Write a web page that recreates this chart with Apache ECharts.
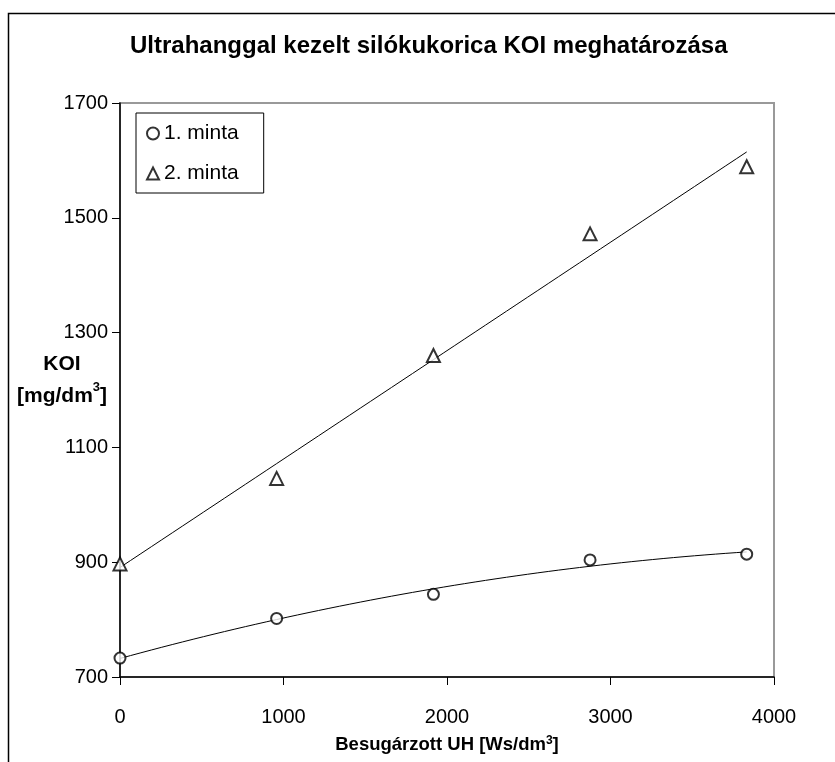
<!DOCTYPE html>
<html>
<head>
<meta charset="utf-8">
<script src="https://cdn.jsdelivr.net/npm/echarts@6/dist/echarts.min.js"></script>
<style>
html,body{margin:0;padding:0;background:#fff;}
#chart{width:835px;height:762px;}
</style>
</head>
<body>
<div id="chart"></div>
<script>
// ---- data ----
const xValues = [0, 958, 1917, 2875, 3833];
const minta1 = [733, 802, 844, 904, 914];
const minta2 = [897, 1046, 1260, 1472, 1589];
const xTicks = [0, 1000, 2000, 3000, 4000];
const yTicks = [700, 900, 1100, 1300, 1500, 1700];
const seriesNames = ['1. minta', '2. minta'];

// least-squares polynomial fit (trendlines as in the original spreadsheet chart)
function polyfit(xs, ys, order) {
  const n = order + 1;
  const A = [], b = [];
  for (let i = 0; i < n; i++) {
    A.push([]);
    for (let j = 0; j < n; j++) {
      let s = 0; for (let k = 0; k < xs.length; k++) s += Math.pow(xs[k], i + j);
      A[i].push(s);
    }
    let s = 0; for (let k = 0; k < xs.length; k++) s += ys[k] * Math.pow(xs[k], i);
    b.push(s);
  }
  for (let i = 0; i < n; i++) {
    let p = i;
    for (let r = i + 1; r < n; r++) if (Math.abs(A[r][i]) > Math.abs(A[p][i])) p = r;
    [A[i], A[p]] = [A[p], A[i]]; [b[i], b[p]] = [b[p], b[i]];
    for (let r = i + 1; r < n; r++) {
      const f = A[r][i] / A[i][i];
      for (let c = i; c < n; c++) A[r][c] -= f * A[i][c];
      b[r] -= f * b[i];
    }
  }
  const coef = new Array(n).fill(0);
  for (let i = n - 1; i >= 0; i--) {
    let s = b[i];
    for (let c = i + 1; c < n; c++) s -= A[i][c] * coef[c];
    coef[i] = s / A[i][i];
  }
  return coef;
}
function trend(xs, ys, order) {
  const c = polyfit(xs, ys, order);
  const x0 = xs[0], x1 = xs[xs.length - 1], steps = 60;
  const out = [];
  for (let i = 0; i <= steps; i++) {
    const x = x0 + (x1 - x0) * i / steps;
    let y = 0; for (let k = 0; k < c.length; k++) y += c[k] * Math.pow(x, k);
    out.push([x, y]);
  }
  return out;
}

const pts1 = xValues.map((x, i) => [x, minta1[i]]);
const pts2 = xValues.map((x, i) => [x, minta2[i]]);
const FONT = 'Arial, "Liberation Sans", sans-serif';

const chart = echarts.init(document.getElementById('chart'), null, {renderer: 'canvas'});
chart.setOption({
  animation: false,
  backgroundColor: '#fff',
  title: {
    text: 'Ultrahanggal kezelt silókukorica KOI meghatározása',
    left: 130,
    top: 34,
    padding: 0,
    textStyle: {fontFamily: FONT, fontSize: 24, fontWeight: 'bold', color: '#000'}
  },
  graphic: [{
    type: 'rect',
    shape: {x: 8.5, y: 13.5, width: 840, height: 760},
    style: {fill: 'none', stroke: '#000', lineWidth: 1.5},
    silent: true, z: -1
  }, {
    type: 'text',
    left: 17, top: 354,
    style: {
      text: '{b|KOI}\n{b|[mg/dm}{s|3}{b|]}',
      align: 'center',
      rich: {
        b: {fontFamily: FONT, fontSize: 21, fontWeight: 'bold', fill: '#000', lineHeight: 32, align: 'center'},
        s: {fontFamily: FONT, fontSize: 13, fontWeight: 'bold', fill: '#000', lineHeight: 32, verticalAlign: 'top', padding: [0, 0, 9, 0]}
      }
    },
    silent: true
  }],
  legend: {
    orient: 'vertical',
    left: 136, top: 113,
    padding: [10, 25, 9, 10],
    itemGap: 19,
    itemWidth: 12, itemHeight: 12,
    borderColor: '#000', borderWidth: 1,
    textStyle: {fontFamily: FONT, fontSize: 21, color: '#000'},
    data: [
      {name: seriesNames[0], icon: 'emptyCircle'},
      {name: seriesNames[1], icon: 'emptyTriangle'}
    ]
  },
  grid: {
    left: 120, top: 103, right: 61, bottom: 85,
    outerBoundsMode: 'none', containLabel: false,
    show: true, borderColor: '#999', borderWidth: 2, backgroundColor: '#fff'
  },
  xAxis: {
    type: 'value', min: xTicks[0], max: xTicks[xTicks.length - 1], interval: 1000,
    name: '{b|Besugárzott UH [Ws/dm}{s|3}{b|]}',
    nameLocation: 'middle', nameGap: 68,
    nameTextStyle: {
      verticalAlign: 'middle',
      rich: {
        b: {fontFamily: FONT, fontSize: 18.5, fontWeight: 'bold', color: '#000'},
        s: {fontFamily: FONT, fontSize: 12, fontWeight: 'bold', color: '#000', verticalAlign: 'top', padding: [0, 0, 8, 0]}
      }
    },
    axisLine: {lineStyle: {color: '#000', width: 1.5}},
    axisTick: {length: 8, lineStyle: {color: '#000', width: 1}},
    axisLabel: {fontFamily: FONT, fontSize: 20, color: '#000', margin: 30, formatter: v => String(v)},
    splitLine: {show: false}
  },
  yAxis: {
    type: 'value', min: yTicks[0], max: yTicks[yTicks.length - 1], interval: 200,
    axisLine: {lineStyle: {color: '#000', width: 1.5}},
    axisTick: {length: 8, lineStyle: {color: '#000', width: 1}},
    axisLabel: {fontFamily: FONT, fontSize: 20, color: '#000', margin: 12, formatter: v => String(v)},
    splitLine: {show: false}
  },
  series: [
    {
      type: 'line', data: trend(xValues, minta1, 2), showSymbol: false, silent: true,
      lineStyle: {color: '#000', width: 1}, z: 2
    },
    {
      type: 'line', data: trend(xValues, minta2, 1), showSymbol: false, silent: true,
      lineStyle: {color: '#000', width: 1}, z: 2
    },
    {
      name: seriesNames[0], type: 'scatter', data: pts1, symbol: 'emptyCircle', symbolSize: 11,
      itemStyle: {color: '#000'}, z: 5
    },
    {
      name: seriesNames[1], type: 'scatter', data: pts2, symbol: 'emptyTriangle', symbolSize: 13,
      itemStyle: {color: '#000'}, z: 5
    }
  ]
});
</script>
</body>
</html>
